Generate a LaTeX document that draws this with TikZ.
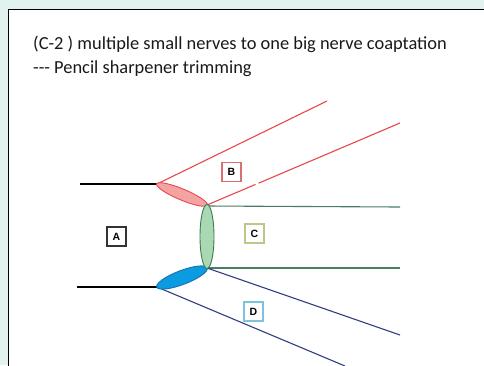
\documentclass[tikz,border=0pt]{standalone}
\usepackage{fontspec}
\setmainfont{Carlito}
\newfontfamily\lblfont{Liberation Sans}
\usetikzlibrary{shapes.geometric}
\definecolor{bgc}{HTML}{E2F2EF}
\definecolor{redline}{HTML}{E8474C}
\definecolor{redfill}{HTML}{F4A3A3}
\definecolor{greenline}{HTML}{4A7D62}
\definecolor{greenfill}{HTML}{A9D8B2}
\definecolor{greenstroke}{HTML}{3C7A52}
\definecolor{bluefill}{HTML}{0A9BE0}
\definecolor{bluestroke}{HTML}{1D6FB0}
\definecolor{navyline}{HTML}{2F3F80}
\definecolor{boxB}{HTML}{D97070}
\definecolor{boxC}{HTML}{B8C98A}
\definecolor{boxD}{HTML}{7CC4DD}
\begin{document}
\begin{tikzpicture}[x=1pt,y=-1pt,
  nerve/.style={line width=1.1pt},
  lbl/.style={draw, line width=1.3pt, minimum size=19pt, inner sep=0pt, fill=white,
    font=\lblfont\fontsize{10.5}{10.5}\selectfont\bfseries},
  titletext/.style={anchor=base west, inner sep=0pt, font=\fontsize{18.4}{22}\selectfont, text=black!90},
  ell/.style={ellipse, inner sep=0pt, line width=0.9pt}]
\useasboundingbox (0,0) rectangle (484,365);
\fill[bgc] (0,0) rectangle (484,365);
\fill[white] (8.5,9) rectangle (490,370);
\draw[line width=1pt] (8.5,372) -- (8.5,9) -- (490,9);

\node[titletext] (t1) at (33,49) {(C-2 ) multiple small nerves to one big nerve coaptation};
\node[titletext] (t2) at (33,73) {{-}{-}{-} Pencil sharpener trimming};

% coordinates
\coordinate (a1) at (80,184);
\coordinate (r1) at (157,184);
\coordinate (r2) at (207,205);
\coordinate (g1) at (207,206);
\coordinate (g2) at (207,268);
\coordinate (b1) at (157,287);
\coordinate (b2) at (207,268);
\coordinate (a2) at (77,287);
\coordinate (rE1) at (327,101);
\coordinate (rGa) at (255.5,184.4);
\coordinate (rGb) at (258.5,183.2);
\coordinate (rE2) at (400,123);
\coordinate (gE1) at (400,207);
\coordinate (gE2) at (400,268);
\coordinate (nE1) at (400,335);
\coordinate (nE2) at (345,366);

% lines
\draw[nerve] (a1) -- (r1);
\draw[nerve] (a2) -- (b1);
\draw[nerve, redline] (r1) -- (rE1);
\draw[nerve, redline] (r2) -- (rGa);
\draw[nerve, redline] (rGb) -- (rE2);
\draw[nerve, greenline] (g1) -- (gE1);
\draw[nerve, greenline] (g2) -- (gE2);
\draw[nerve, navyline] (b2) -- (nE1);
\draw[nerve, navyline] (b1) -- (nE2);

% ellipses
\node[ell, draw=redline, fill=redfill, minimum width=55pt, minimum height=11pt, rotate=-22.8] (re) at (182,194.5) {};
\node[ell, draw=bluestroke, fill=bluefill, minimum width=54pt, minimum height=14pt, rotate=20.8] (be) at (182,277.5) {};
\node[ell, draw=greenstroke, fill=greenfill, minimum width=14pt, minimum height=64pt] (ge) at (207,236.5) {};

% labels
\node[lbl, draw=black!80] (A) at (116.5,236.5) {A};
\node[lbl, draw=boxB] (B) at (231.5,172) {B};
\node[lbl, draw=boxC] (C) at (254.5,233.5) {C};
\node[lbl, draw=boxD] (D) at (253.5,311.5) {D};
\end{tikzpicture}
\end{document}
